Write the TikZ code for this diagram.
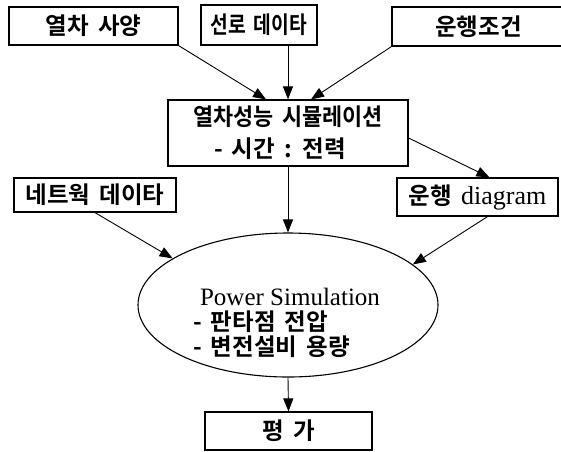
\documentclass[tikz,border=0pt]{standalone}
\usepackage{fontspec}
\usepackage{graphicx}
\setmainfont{Liberation Serif}
\newfontfamily\kr{Noto Sans CJK KR}[BoldFont={Noto Sans CJK KR Bold},WordSpace=1.7]
\usetikzlibrary{arrows.meta,shapes.geometric}
\begin{document}
\begin{tikzpicture}[x=1pt,y=-1pt,
  kfont/.style={font=\kr\bfseries\fontsize{23.5}{32}\selectfont},
  lfont/.style={font=\rmfamily\mdseries\fontsize{25}{30}\selectfont},
  box/.style={draw, line width=1.2pt, inner sep=0pt, kfont},
  arr/.style={line width=0.9pt, -{Triangle[length=13pt,width=10pt]}},
]
\useasboundingbox (0,0) rectangle (561,451);
\node[box, minimum width=169, minimum height=38] (b1) at (93.5,26) {열차 사양};
\node[box, minimum width=116, minimum height=40] (b2) at (259,25) {\scalebox{0.82}[1]{선로 데이타}};
\node[box, minimum width=173, minimum height=39] (b3) at (478.5,26.5) {운행조건};
\node[box, minimum width=240, minimum height=66, align=center] (b4) at (288,133) {\scalebox{0.93}[1]{열차성능 시뮬레이션}\\\hspace*{-16pt}- 시간 : 전력};
\node[box, minimum width=162, minimum height=34] (b5) at (95,195) {네트웍 데이타};
\node[box, minimum width=161, minimum height=38] (b6) at (477.5,197) {운행 {\rmfamily\mdseries\fontsize{26}{30}\selectfont diagram}};
\node[box, minimum width=167, minimum height=38] (b7) at (288.5,431) {평 가};
\node[draw, line width=1.1pt, ellipse, minimum width=300, minimum height=144, inner sep=0pt] (ell) at (288,305) {};
\node[lfont, inner sep=0pt] (t1) at (290,297) {Power Simulation};
\node[kfont, anchor=west, inner sep=0pt] (t2) at (193,322) {- 판타점 전압};
\node[kfont, anchor=west, inner sep=0pt] (t3) at (193,347) {- 변전설비 용량};
\draw[arr] (b1.south east) -- ([xshift=-22pt]b4.north);
\draw[arr] (b4.north |- b2.south) -- (b4.north);
\draw[arr] (b3.south west) -- ([xshift=23pt]b4.north);
\draw[arr] ([yshift=-5pt]b4.east) -- ([xshift=12pt]b6.north);
\draw[arr] (b4.south) -- (ell.north);
\draw[arr] (b5.south) -- (ell.158);
\draw[arr] ([xshift=10pt]b6.south) -- (ell.18);
\draw[arr] (ell.south) -- (b7.north);
\end{tikzpicture}
\end{document}
